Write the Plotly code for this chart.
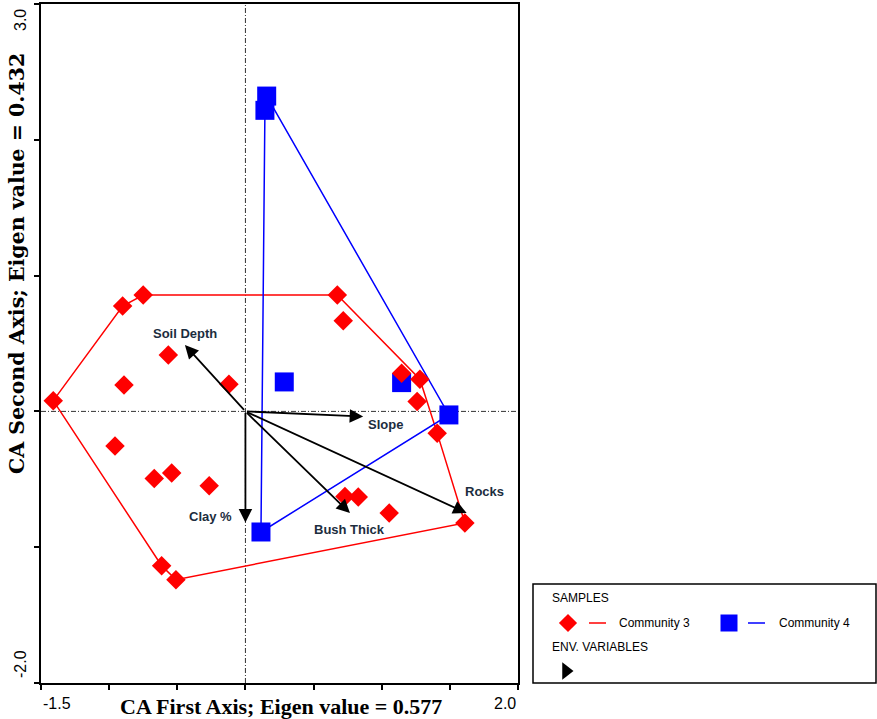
import plotly.graph_objects as go

# ---------------- data ----------------
c3_x = [-1.410, -0.901, -0.750, -0.566, -0.891, -0.121, -0.957, -0.669, -0.541, -0.266, -0.615,
        -0.510, 0.674, 0.718, 1.146, 1.280, 1.260, 1.407, 1.610, 0.730, 0.828, 1.055]
c3_y = [0.079, 0.776, 0.857, 0.415, 0.195, 0.200, -0.254, -0.494, -0.454, -0.548, -1.136,
        -1.239, 0.857, 0.668, 0.281, 0.237, 0.072, -0.160, -0.822, -0.626, -0.631, -0.749]
c3_hull = [0, 1, 2, 12, 15, 17, 18, 11, 10, 0]

c4_x = [0.156, 0.143, 0.285, 1.146, 1.493, 0.114]
c4_y = [2.322, 2.217, 0.217, 0.212, -0.026, -0.888]
c4_hull = [0, 4, 5, 1, 0]

env_names = ["Soil Depth", "Slope", "Clay %", "Bush Thick", "Rocks"]
env_x = [-0.444, 0.864, 0.000, 0.767, 1.623]
env_y = [0.489, -0.038, -0.818, -0.749, -0.749]
env_label_shift = [(0, 11), (22, -8), (-35, 6), (0, -16), (18, 22)]

x_range = [-1.5, 2.0]
y_range = [-2.0, 3.0]
x_tick_vals = [-1.5, -1.0, -0.5, 0.0, 0.5, 1.0, 1.5, 2.0]
y_tick_vals = [-2.0, -1.0, 0.0, 1.0, 2.0, 3.0]
x_title = "CA First Axis; Eigen value = 0.577"
y_title = "CA Second Axis; Eigen value = 0.432"

RED = "#ff0000"
BLUE = "#0000ff"
TXT = "#1c2d3e"

W, H = 877, 719
ML, MR, MT, MB = 41, 1, 4, 36
PW = W - ML - MR
PH = H - MT - MB
plot_right_px = 518
xdom = (plot_right_px - ML) / PW


def px_x(p):
    return (p - ML) / PW


def px_y(p):
    return (H - MB - p) / PH


fig = go.Figure()

# hulls
fig.add_trace(go.Scatter(x=[c3_x[i] for i in c3_hull], y=[c3_y[i] for i in c3_hull],
                         mode="lines", line=dict(color=RED, width=1.5), hoverinfo="skip"))
fig.add_trace(go.Scatter(x=[c4_x[i] for i in c4_hull], y=[c4_y[i] for i in c4_hull],
                         mode="lines", line=dict(color=BLUE, width=1.5), hoverinfo="skip"))
# markers
fig.add_trace(go.Scatter(x=c4_x, y=c4_y, mode="markers",
                         marker=dict(symbol="square", size=19, color=BLUE, line=dict(width=0))))
fig.add_trace(go.Scatter(x=c3_x, y=c3_y, mode="markers",
                         marker=dict(symbol="diamond", size=15, color=RED, line=dict(width=0))))

# zero lines
zl = dict(color="#333", width=1, dash="5px,2px,1px,2px")
fig.add_shape(type="line", xref="x", yref="y domain", x0=0, x1=0, y0=0, y1=1,
              line=zl, layer="below")
fig.add_shape(type="line", xref="x domain", yref="y", x0=0, x1=1, y0=0, y1=0,
              line=zl, layer="below")

# env arrows
for name, ex, ey, (sx, sy) in zip(env_names, env_x, env_y, env_label_shift):
    fig.add_annotation(x=ex, y=ey, ax=0, ay=0, xref="x", yref="y", axref="x", ayref="y",
                       showarrow=True, arrowhead=2, arrowsize=1.5, arrowwidth=1.8,
                       arrowcolor="black", text="")
    fig.add_annotation(x=ex, y=ey, xref="x", yref="y", text="<b>%s</b>" % name,
                       showarrow=False, xshift=sx, yshift=sy,
                       font=dict(family="Liberation Sans, Arial", size=13, color=TXT))

# end tick labels
tick_font = dict(family="Liberation Sans, Arial", size=16, color="black")
fig.add_annotation(x=x_range[0], y=0, xref="x", yref="paper", text="-1.5", showarrow=False,
                   xanchor="left", yanchor="middle", yshift=-20, font=tick_font)
fig.add_annotation(x=x_range[1], y=0, xref="x", yref="paper", text="2.0", showarrow=False,
                   xanchor="right", yanchor="middle", yshift=-20, font=tick_font)
fig.add_annotation(x=0, y=y_range[1], xref="paper", yref="y", text="3.0", showarrow=False,
                   textangle=-90, xanchor="center", yanchor="top", xshift=-21, yshift=-3,
                   font=tick_font)
fig.add_annotation(x=0, y=y_range[0], xref="paper", yref="y", text="-2.0", showarrow=False,
                   textangle=-90, xanchor="center", yanchor="bottom", xshift=-21, yshift=3,
                   font=tick_font)

# axis titles
fig.add_annotation(x=px_x(281), y=0, xref="paper", yref="paper", text="<b>%s</b>" % x_title,
                   showarrow=False, xanchor="center", yanchor="middle", yshift=-23,
                   font=dict(family="Liberation Serif, Times New Roman", size=22, color="black"))
fig.add_annotation(x=0, y=px_y(264), xref="paper", yref="paper", text="<b>%s</b>" % y_title,
                   showarrow=False, textangle=-90, xanchor="center", yanchor="middle", xshift=-24,
                   font=dict(family="DejaVu Serif", size=20.5, color="black"))

# ---------------- custom legend ----------------
lg_x0, lg_x1, lg_y0, lg_y1 = 533, 876, 584, 683   # px box
fig.add_shape(type="rect", xref="paper", yref="paper", x0=px_x(lg_x0), x1=px_x(lg_x1),
              y0=px_y(lg_y1), y1=px_y(lg_y0), line=dict(color="black", width=1.5))
leg_font = dict(family="Liberation Sans, Arial", size=12, color="black")
fig.add_annotation(x=px_x(550), y=px_y(598), xref="paper", yref="paper", text="SAMPLES",
                   showarrow=False, xanchor="left", yanchor="middle", font=leg_font)
fig.add_annotation(x=px_x(617), y=px_y(623), xref="paper", yref="paper", text="Community 3",
                   showarrow=False, xanchor="left", yanchor="middle", font=leg_font)
fig.add_annotation(x=px_x(777), y=px_y(623), xref="paper", yref="paper", text="Community 4",
                   showarrow=False, xanchor="left", yanchor="middle", font=leg_font)
fig.add_annotation(x=px_x(550), y=px_y(647), xref="paper", yref="paper", text="ENV. VARIABLES",
                   showarrow=False, xanchor="left", yanchor="middle", font=leg_font)
fig.add_shape(type="line", xref="paper", yref="paper", x0=px_x(589), x1=px_x(606),
              y0=px_y(623), y1=px_y(623), line=dict(color=RED, width=1.5))
fig.add_shape(type="line", xref="paper", yref="paper", x0=px_x(748), x1=px_x(765),
              y0=px_y(623), y1=px_y(623), line=dict(color=BLUE, width=1.5))

# legend symbols on an auxiliary axis pair confined to the legend box (pixel units)
fig.add_trace(go.Scatter(x=[568], y=[623], xaxis="x2", yaxis="y2", mode="markers",
                         marker=dict(symbol="diamond", size=14, color=RED, line=dict(width=0))))
fig.add_trace(go.Scatter(x=[729], y=[623], xaxis="x2", yaxis="y2", mode="markers",
                         marker=dict(symbol="square", size=17, color=BLUE, line=dict(width=0))))
fig.add_trace(go.Scatter(x=[566], y=[671], xaxis="x2", yaxis="y2", mode="markers",
                         marker=dict(symbol="triangle-right", size=15, color="black",
                                     line=dict(width=0))))

axis_common = dict(showgrid=False, zeroline=False, showline=True, linecolor="black", linewidth=2,
                   mirror=True, ticks="outside", ticklen=5, tickwidth=1.5, tickcolor="black",
                   showticklabels=False)
fig.update_layout(
    width=W, height=H,
    margin=dict(l=ML, r=MR, t=MT, b=MB),
    plot_bgcolor="rgba(0,0,0,0)", paper_bgcolor="white",
    showlegend=False,
    xaxis=dict(range=x_range, domain=[0, xdom], tickvals=x_tick_vals, **axis_common),
    yaxis=dict(range=y_range, domain=[0, 1], tickvals=y_tick_vals, **axis_common),
    xaxis2=dict(range=[lg_x0, lg_x1], domain=[px_x(lg_x0), px_x(lg_x1)], visible=False,
                fixedrange=True, anchor="y2"),
    yaxis2=dict(range=[lg_y1, lg_y0], domain=[px_y(lg_y1), px_y(lg_y0)], visible=False,
                fixedrange=True, anchor="x2"),
)

fig.write_html("out.html", config={"displayModeBar": False},
               post_script="document.body.style.margin='0';")
